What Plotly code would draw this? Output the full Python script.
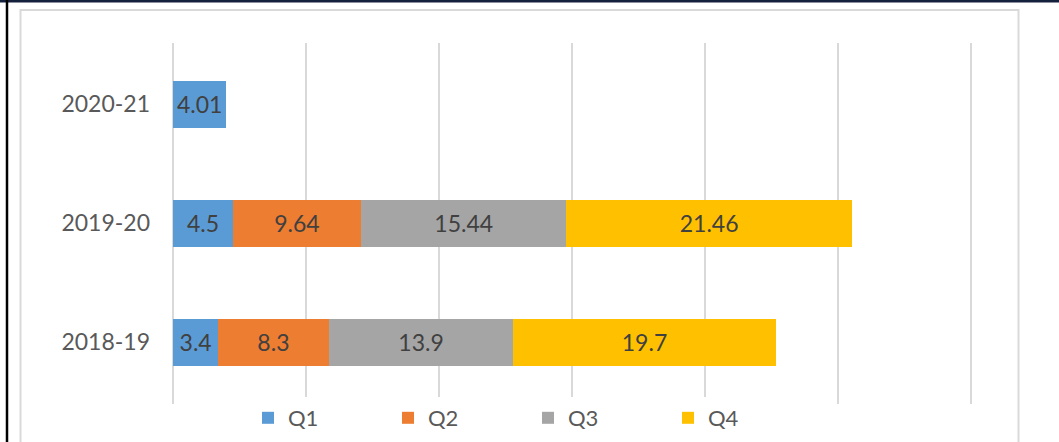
import plotly.graph_objects as go

# Fiscal years (bottom to top) and quarterly values
years = ["2018-19", "2019-20", "2020-21"]
q1 = [3.4, 4.5, 4.01]
q2 = [8.3, 9.64, None]
q3 = [13.9, 15.44, None]
q4 = [19.7, 21.46, None]
quarters = ["Q1", "Q2", "Q3", "Q4"]
series = [q1, q2, q3, q4]
colors = ["#5B9BD5", "#ED7D31", "#A5A5A5", "#FFC000"]

W, H = 1059, 442
L, R, T, B = 173, 84, 43, 38
pw, ph = W - L - R, H - T - B


def px_x(x):
    return (x - L) / pw


def px_y(y):
    return (H - B - y) / ph


fig = go.Figure()
for name, vals, col in zip(quarters, series, colors):
    fig.add_trace(go.Bar(
        y=years, x=vals, name=name, orientation="h",
        marker=dict(color=col, line=dict(width=0)),
        text=[("" if v is None else f"{v:g}") for v in vals],
        textposition="inside", insidetextanchor="middle",
        textangle=0, constraintext="none",
        textfont=dict(family="Lato", size=23, color="#404040"),
        hoverinfo="skip",
    ))

fig.update_layout(
    width=W, height=H,
    margin=dict(l=L, r=R, t=T, b=B, autoexpand=False),
    barmode="stack", bargap=0.605,
    paper_bgcolor="white", plot_bgcolor="white",
    font=dict(family="Lato", color="#595959"),
    xaxis=dict(range=[0, 60.3], dtick=10, showgrid=True, gridcolor="#D9D9D9",
               gridwidth=1.5, zeroline=True, zerolinecolor="#D9D9D9",
               zerolinewidth=1.5, showticklabels=False, showline=False,
               fixedrange=True),
    yaxis=dict(range=[-0.521, 2.513], showgrid=False, zeroline=False,
               showline=False,
               tickfont=dict(family="Lato", size=23, color="#595959"),
               ticklabelstandoff=22, fixedrange=True),
    legend=dict(orientation="h", x=px_x(248), xanchor="left",
                y=px_y(418), yanchor="middle",
                entrywidth=95, entrywidthmode="pixels",
                font=dict(family="Lato", size=22, color="#595959"),
                traceorder="normal"),
    shapes=[
        # inner chart-area frame
        dict(type="rect", xref="paper", yref="paper",
             x0=px_x(20.5), x1=px_x(1018.5), y0=px_y(460), y1=px_y(10),
             line=dict(color="#D9D9D9", width=2), fillcolor="rgba(0,0,0,0)",
             layer="below"),
        # outer border: top and left edges
        dict(type="line", xref="paper", yref="paper",
             x0=px_x(0), x1=px_x(W), y0=px_y(1), y1=px_y(1),
             line=dict(color="#14213D", width=3)),
        dict(type="line", xref="paper", yref="paper",
             x0=px_x(7), x1=px_x(7), y0=px_y(0), y1=px_y(H),
             line=dict(color="#000000", width=2.5)),
    ],
)

fig.write_html("out.html")
